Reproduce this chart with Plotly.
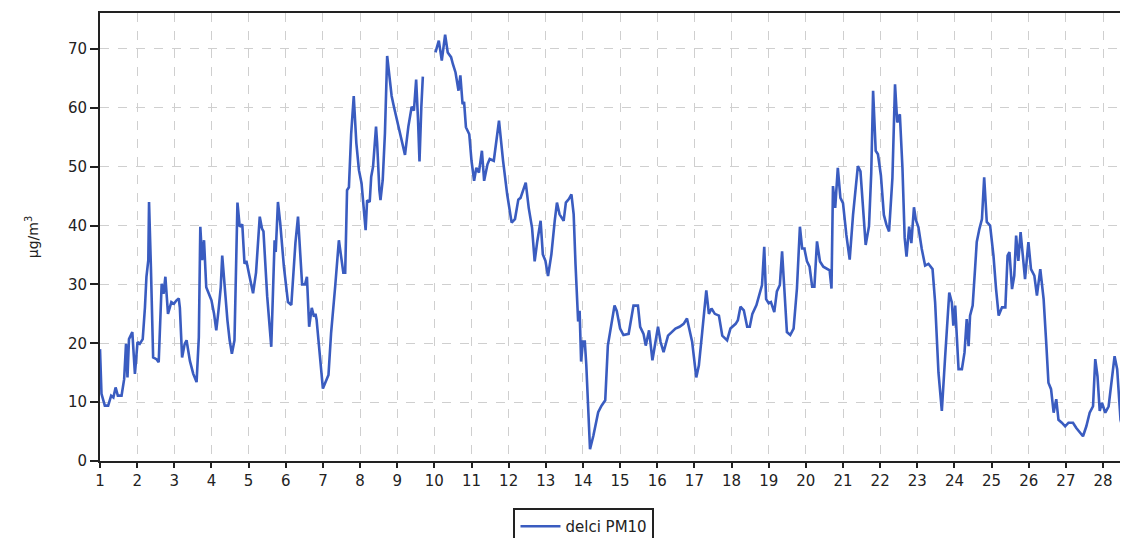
import plotly.graph_objects as go

# Hourly-ish PM10 readings (day of month, µg/m³); None marks the data gap
day = [1.0, 1.04, 1.13, 1.22, 1.3, 1.36, 1.42, 1.48, 1.58, 1.65, 1.7, 1.74, 1.78, 1.87, 1.94, 2.01,
       2.07, 2.15, 2.21, 2.25, 2.3, 2.32, 2.37, 2.43, 2.52, 2.58, 2.66, 2.71, 2.76, 2.83, 2.92, 2.99,
       3.06, 3.12, 3.15, 3.21, 3.28, 3.33, 3.42, 3.51, 3.6, 3.66, 3.7, 3.75, 3.8, 3.86, 3.93, 4.0,
       4.07, 4.13, 4.19, 4.25, 4.29, 4.36, 4.43, 4.49, 4.55, 4.62, 4.7, 4.76, 4.83, 4.89, 4.94, 5.02,
       5.12, 5.2, 5.3, 5.36, 5.4, 5.5, 5.61, 5.7, 5.73, 5.79, 5.85, 5.95, 6.06, 6.15, 6.26, 6.33,
       6.39, 6.44, 6.52, 6.57, 6.63, 6.7, 6.76, 6.8, 6.83, 7.0, 7.15, 7.22, 7.33, 7.43, 7.55, 7.6,
       7.65, 7.7, 7.76, 7.83, 7.9, 7.97, 8.04, 8.1, 8.15, 8.19, 8.26, 8.3, 8.35, 8.43, 8.46, 8.52,
       8.55, 8.61, 8.67, 8.73, 8.79, 8.85, 8.91, 8.99, 9.1, 9.21, 9.3, 9.39, 9.45, 9.51, 9.56, 9.6,
       9.65, 9.69, 9.85,
       10.03, 10.12, 10.2, 10.29, 10.36, 10.45, 10.5, 10.57, 10.65, 10.7, 10.76, 10.8, 10.85, 10.94,
       11.0, 11.07, 11.13, 11.2, 11.28, 11.34, 11.43, 11.49, 11.6, 11.74, 11.85, 11.96, 12.08, 12.17,
       12.26, 12.32, 12.46, 12.54, 12.63, 12.7, 12.77, 12.86, 12.92, 12.99, 13.06, 13.15, 13.24, 13.3,
       13.37, 13.48, 13.54, 13.62, 13.69, 13.75, 13.8, 13.84, 13.87, 13.91, 13.95, 14.0, 14.05, 14.09,
       14.13, 14.19, 14.28, 14.35, 14.41, 14.5, 14.6, 14.67, 14.73, 14.85, 14.91, 15.0, 15.09, 15.23,
       15.36, 15.48, 15.54, 15.63, 15.69, 15.78, 15.87, 15.95, 16.02, 16.09, 16.17, 16.29, 16.38,
       16.49, 16.6, 16.71, 16.8, 16.94, 17.05, 17.12, 17.21, 17.32, 17.39, 17.46, 17.55, 17.66, 17.75,
       17.88, 17.97, 18.11, 18.17, 18.24, 18.33, 18.42, 18.49, 18.56, 18.67, 18.76, 18.82, 18.88,
       18.93, 19.0, 19.06, 19.15, 19.22, 19.3, 19.36, 19.42, 19.49, 19.58, 19.67, 19.76, 19.84, 19.9,
       19.96, 20.03, 20.1, 20.17, 20.23, 20.3, 20.38, 20.47, 20.57, 20.64, 20.69, 20.73, 20.79, 20.86,
       20.93, 21.0, 21.09, 21.18, 21.27, 21.34, 21.4, 21.47, 21.54, 21.61, 21.7, 21.76, 21.81, 21.88,
       21.94, 22.02, 22.1, 22.17, 22.24, 22.33, 22.4, 22.46, 22.53, 22.6, 22.66, 22.71, 22.78, 22.84,
       22.91, 22.96, 23.03, 23.12, 23.21, 23.3, 23.41, 23.48, 23.57, 23.66, 23.75, 23.86, 23.93, 23.97,
       24.02, 24.11, 24.2, 24.27, 24.33, 24.38, 24.42, 24.49, 24.56, 24.6, 24.67, 24.74, 24.8, 24.87,
       24.96, 25.05, 25.12, 25.19, 25.28, 25.37, 25.43, 25.48, 25.55, 25.61, 25.66, 25.72, 25.78,
       25.86, 25.9, 25.99, 26.06, 26.15, 26.22, 26.31, 26.4, 26.47, 26.53, 26.6, 26.67, 26.74, 26.8,
       26.89, 26.98, 27.07, 27.19, 27.28, 27.39, 27.46, 27.55, 27.64, 27.73, 27.79, 27.85, 27.91,
       27.97, 28.06, 28.15, 28.24, 28.31, 28.38, 28.47, 28.56, 28.65, 28.7]

pm10 = [19, 11.4, 9.4, 9.4, 11.1, 10.8, 12.5, 11.1, 11.1, 13.9, 19.9, 14.2, 20.7, 21.9, 14.8, 20.2,
        19.9, 20.7, 26.1, 31.3, 34.1, 44.0, 33, 17.6, 17.3, 16.8, 30.1, 28.4, 31.3, 25.0, 27.0, 26.7,
        27.3, 27.6, 26, 17.6, 19.9, 20.5, 17.0, 14.8, 13.4, 21.0, 39.8, 34.1, 37.5, 29.5, 28.4, 27.3,
        25, 22.2, 25.6, 29.5, 34.9, 29, 23.9, 20.5, 18.2, 20.5, 43.9, 39.8, 40.2, 33.5, 34, 31.5,
        28.5, 32, 41.5, 39.5, 39, 28, 19.4, 37.5, 35.5, 44, 40.5, 33, 27, 26.5, 37, 41.5,
        35, 30, 30, 31.3, 22.8, 26, 24.5, 25, 24, 12.3, 14.6, 21.7, 29.6, 37.5, 32, 32,
        46, 46.5, 55.5, 62, 54, 49.4, 47.2, 42, 39.2, 44.3, 44, 48.3, 50, 56.8, 54, 46,
        44.3, 47.7, 55.7, 68.8, 65.3, 62, 60.2, 58, 54.5, 52, 56.8, 60.2, 59.5, 64.8, 58, 50.9,
        60.2, 65.3, None,
        69.4, 71.4, 68, 72.4, 69.4, 68.6, 67.4, 66, 62.9, 65.5, 60.6, 61, 56.7, 55.5,
        51, 47.6, 49.8, 49, 52.7, 47.6, 50.4, 51.3, 51, 57.8, 51, 45.3, 40.5, 41.1,
        44.4, 44.7, 47.3, 43, 39.6, 33.9, 37.3, 40.8, 35.1, 34, 31.4, 35.1, 40.8, 43.9,
        41.9, 40.8, 43.9, 44.5, 45.3, 41.9, 33.4, 27.1, 23.7, 25.5, 16.9, 20.3, 20.3, 16.3,
        9.5, 2.0, 4.3, 6.5, 8.3, 9.4, 10.3, 19.6, 21.9, 26.4, 25.5, 22.5, 21.4, 21.6,
        26.4, 26.4, 22.8, 21.6, 19.6, 22.2, 17.1, 20.2, 22.8, 20.2, 18.5, 21.3, 21.8,
        22.5, 22.8, 23.3, 24.2, 20.2, 14.2, 16.2, 21.9, 29.0, 25.0, 25.9, 25.0, 24.7, 21.3,
        20.5, 22.5, 23.3, 23.9, 26.2, 25.6, 22.8, 22.8, 25.0, 26.5, 28.8, 29.9, 36.4,
        27.5, 26.8, 27, 25.3, 28.8, 29.9, 35.6, 29.3, 21.9, 21.4, 22.5, 29.3, 39.8, 36.1,
        36.1, 33.9, 33, 29.6, 29.6, 37.3, 33.9, 33.0, 32.7, 32.4, 29.3, 46.7, 43, 49.8,
        44.7, 43.8, 38.4, 34.2, 41.8, 47.0, 50.1, 49.2, 42.4, 36.7, 39.9, 48.9, 62.9, 52.7,
        52.1, 48.5, 41.8, 40.1, 39.0, 48.1, 64.0, 57.5, 58.9, 49.8, 37.9, 34.7, 39.8, 37,
        43.1, 41, 39.7, 36, 33.2, 33.5, 32.6, 26.9, 15, 8.5, 17.8, 28.6, 26.9, 23,
        26.4, 15.6, 15.6, 18.4, 24.1, 19.5, 24.7, 26.4, 33.2, 37.2, 39.4, 41.1, 48.2, 40.6,
        40, 34.9, 29.2, 24.7, 26.1, 26.1, 34.9, 35.5, 29.2, 31.5, 38.3, 34.0, 38.9,
        34.3, 30.9, 37.2, 32.6, 31.5, 28.1, 32.6, 27.5, 20.1, 13.3, 12.2, 8.2, 10.5, 7.0,
        6.5, 5.9, 6.5, 6.5, 5.6, 4.8, 4.2, 5.9, 8.2, 9.3, 17.3, 14.4, 8.5,
        9.9, 8.2, 9.3, 13.9, 17.8, 15.6, 7.0, 4.8, 4.8, 9]

y_ticks = [0, 10, 20, 30, 40, 50, 60, 70]
x_ticks = list(range(1, 29))

fig = go.Figure()
fig.add_trace(go.Scatter(
    x=day, y=pm10, mode="lines", name="delci PM10",
    line=dict(color="#3a5cc0", width=2.6), connectgaps=False,
))

font = dict(family="DejaVu Sans, Verdana, sans-serif", size=15, color="#222222")

fig.update_layout(
    width=1112, height=530,
    margin=dict(l=92, r=0, t=5, b=77, autoexpand=False),
    paper_bgcolor="white", plot_bgcolor="white",
    font=font,
    showlegend=True,
    legend=dict(
        orientation="h", x=0.4745, xanchor="center", y=-0.105, yanchor="top",
        bordercolor="#222222", borderwidth=2, bgcolor="white", itemwidth=40,
        font=dict(family="DejaVu Sans, Verdana, sans-serif", size=15, color="#222222"),
    ),
    xaxis=dict(
        range=[1, 28.456], tickvals=x_ticks, ticktext=[str(v) for v in x_ticks],
        showgrid=True, gridcolor="#cfcfcf", griddash="dash", gridwidth=1,
        showline=True, linecolor="#222222", linewidth=2, mirror=True,
        ticks="outside", ticklen=5, tickcolor="#222222", tickwidth=2,
        zeroline=False, automargin=False,
    ),
    yaxis=dict(
        range=[0, 76.1], tickvals=y_ticks,
        showgrid=True, gridcolor="#cfcfcf", griddash="dash", gridwidth=1,
        showline=True, linecolor="#222222", linewidth=2,
        ticks="outside", ticklen=8, tickcolor="#222222", tickwidth=2,
        zeroline=False, automargin=False,
        title=dict(text="µg/m<sup>3</sup>", font=dict(size=14), standoff=26),
    ),
)

fig.write_html("out.html")
